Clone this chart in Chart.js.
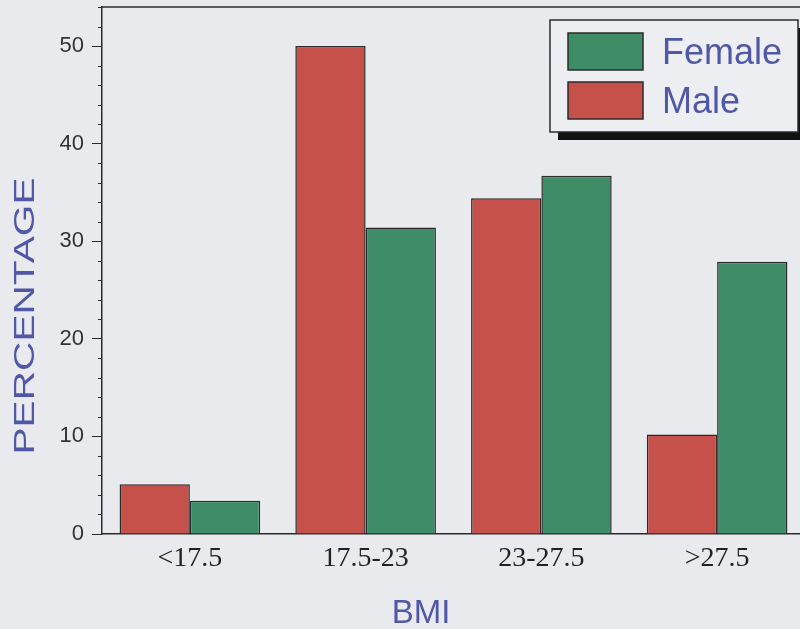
<!DOCTYPE html>
<html>
<head>
<meta charset="utf-8">
<script src="https://cdn.jsdelivr.net/npm/chart.js@4/dist/chart.umd.min.js"></script>
<style>
  html, body { margin: 0; padding: 0; overflow: hidden; background: #e9eaee; }
  #wrap { width: 806px; height: 629px; }
</style>
</head>
<body>
<div id="wrap"><canvas id="bmiChart" width="806" height="629"></canvas></div>
<script>
// BMI groups and percentages
const categories = ['<17.5', '17.5-23', '23-27.5', '>27.5'];
const maleValues = [5.1, 50, 34.4, 10.2];
const femaleValues = [3.4, 31.4, 36.7, 27.9];
const yTicks = [0, 10, 20, 30, 40, 50];
const yMinorStep = 2;

const red = '#c6514b';
const green = '#3e8d67';
const ink = '#2b2b2b';
const blue = '#5057a6';

// frame top line, minor ticks, boxed legend with shadow, axis titles
const decor = {
    id: 'decor',
    afterDraw(chart) {
        const ctx = chart.ctx;
        const area = chart.chartArea;
        const y = chart.scales.y;
        ctx.save();
        ctx.strokeStyle = ink;
        ctx.lineWidth = 1.5;
        ctx.beginPath();
        ctx.moveTo(area.left, area.top);
        ctx.lineTo(area.right, area.top);
        ctx.lineTo(area.right, area.bottom);
        ctx.stroke();

        // minor ticks
        ctx.lineWidth = 1;
        ctx.beginPath();
        for (let v = yMinorStep; v <= y.max; v += yMinorStep) {
            if (v % 10 === 0) continue;
            const py = Math.round(y.getPixelForValue(v)) + 0.5;
            ctx.moveTo(area.left - 4, py);
            ctx.lineTo(area.left, py);
        }
        ctx.stroke();

        // legend
        const bx = 550, by = 20, bw = 248, bh = 112;
        ctx.fillStyle = '#111';
        ctx.fillRect(bx + 8, by + 8, bw, bh);
        ctx.fillStyle = '#eceef1';
        ctx.fillRect(bx, by, bw, bh);
        ctx.lineWidth = 1.5;
        ctx.strokeStyle = ink;
        ctx.strokeRect(bx, by, bw, bh);
        const items = [chart.data.datasets[1], chart.data.datasets[0]];
        ctx.font = '36px "Liberation Sans", Arial, sans-serif';
        ctx.textBaseline = 'alphabetic';
        items.forEach((ds, i) => {
            const sy = 33 + i * 49;
            ctx.fillStyle = ds.backgroundColor;
            ctx.fillRect(568, sy, 75, 37);
            ctx.strokeRect(568, sy, 75, 37);
            ctx.fillStyle = blue;
            ctx.fillText(ds.label, 662, sy + 31);
        });

        // axis titles
        ctx.fillStyle = blue;
        ctx.save();
        ctx.translate(34, 316);
        ctx.rotate(-Math.PI / 2);
        ctx.font = '29px "Liberation Sans", Arial, sans-serif';
        const w = ctx.measureText('PERCENTAGE').width;
        ctx.scale(277 / w, 1);
        ctx.textAlign = 'center';
        ctx.fillText('PERCENTAGE', 0, 0);
        ctx.restore();

        ctx.font = '33px "Liberation Sans", Arial, sans-serif';
        ctx.textAlign = 'center';
        ctx.fillText('BMI', 421, 623);
        ctx.restore();
    }
};

new Chart(document.getElementById('bmiChart'), {
    type: 'bar',
    data: {
        labels: categories,
        datasets: [
            { label: 'Male', data: maleValues, backgroundColor: red, borderColor: ink, borderWidth: 1.5 },
            { label: 'Female', data: femaleValues, backgroundColor: green, borderColor: ink, borderWidth: 1.5 }
        ]
    },
    options: {
        responsive: false,
        animation: false,
        layout: { padding: { top: 7, right: 1, left: 0, bottom: 0 } },
        plugins: { legend: { display: false }, tooltip: { enabled: false } },
        datasets: { bar: { categoryPercentage: 0.8, barPercentage: 1.0 } },
        scales: {
            x: {
                grid: { display: true, drawOnChartArea: false, drawTicks: false },
                border: { color: ink, width: 1.5 },
                ticks: {
                    padding: 8,
                    color: '#222',
                    font: { family: '"Liberation Serif", "Times New Roman", serif', size: 28 }
                },
                afterFit(scale) { scale.height = 95; }
            },
            y: {
                min: 0,
                max: 54,
                afterBuildTicks(scale) { scale.ticks = yTicks.map(v => ({ value: v })); },
                grid: { drawOnChartArea: false, tickLength: 10, tickColor: ink },
                border: { color: ink, width: 1.5 },
                ticks: {
                    padding: 8,
                    color: '#333',
                    font: { family: '"Liberation Sans", Arial, sans-serif', size: 22 }
                },
                afterFit(scale) {
                    scale.width = 102;
                    scale.paddingTop = 0;
                    scale.paddingBottom = 0;
                }
            }
        }
    },
    plugins: [decor]
});
</script>
</body>
</html>
